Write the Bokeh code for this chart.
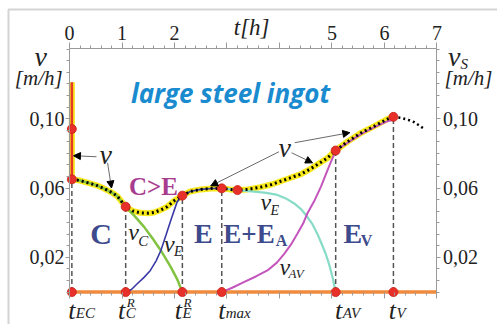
from bokeh.plotting import figure
from bokeh.models import (Range1d, LinearAxis, FixedTicker, Label, Arrow, NormalHead,
                          ColumnDataSource, CustomJSTickFormatter, BoxAnnotation)
from bokeh.embed import file_html
from bokeh.resources import INLINE

# ---------------- data ----------------
# key times [h] and the velocity at each key time [m/h]
key_names = ["EC", "C", "E", "max", "AV", "V"]
key_t = [0.045, 1.07, 2.15, 2.90, 5.07, 6.17]
key_v = [0.065, 0.0492, 0.0556, 0.0598, 0.0816, 0.101]

# extra points marked red
extra_t = [0.045, 3.2]
extra_v = [0.094, 0.0588]

# initial vertical (very fast) stage at t_EC
init_t = [0.045, 0.045]
init_v = [0.121, 0.065]

# v_C (columnar growth)
vc_t = [0.045, 0.2, 0.34, 0.5, 0.65, 0.8, 0.91, 1.07, 1.25, 1.42, 1.58, 1.74, 1.93, 2.05, 2.15]
vc_v = [0.065, 0.0643, 0.0631, 0.0617, 0.0598, 0.0575, 0.0553, 0.0492, 0.0435, 0.0376, 0.031, 0.024, 0.0144, 0.0075, 0.0]

# v_E (equiaxed growth, first part)
ve_t = [1.07, 1.18, 1.29, 1.42, 1.54, 1.65, 1.74, 1.84, 1.93, 2.05, 2.15, 2.3, 2.5, 2.7, 2.9]
ve_v = [0.0, 0.0015, 0.0048, 0.0085, 0.0125, 0.018, 0.024, 0.033, 0.0414, 0.052, 0.0556, 0.058, 0.0592, 0.0597, 0.0598]

# v_E (equiaxed, decaying part)
ve2_t = [2.9, 3.2, 3.52, 3.75, 3.96, 4.12, 4.28, 4.42, 4.53, 4.63, 4.72, 4.8, 4.88, 4.95, 5.01, 5.07]
ve2_v = [0.0598, 0.0588, 0.0579, 0.0572, 0.056, 0.054, 0.0511, 0.0475, 0.0434, 0.039, 0.0337, 0.028, 0.0221, 0.0155, 0.0086, 0.0]

# v_AV
vav_t = [2.9, 3.1, 3.32, 3.55, 3.77, 3.95, 4.09, 4.22, 4.34, 4.45, 4.53, 4.67, 4.79, 4.93, 5.07, 5.3, 5.55, 5.8, 6.06, 6.17]
vav_v = [0.0, 0.0025, 0.0057, 0.009, 0.0125, 0.017, 0.022, 0.0275, 0.0337, 0.0395, 0.0453, 0.053, 0.0608, 0.0715, 0.0816, 0.0862, 0.091, 0.095, 0.0985, 0.0995]

# total velocity v
tot_t = [0.045, 0.2, 0.34, 0.5, 0.65, 0.8, 0.91, 1.07, 1.2, 1.35, 1.5, 1.61, 1.75, 1.86, 2.0, 2.15, 2.3, 2.5,
         2.7, 2.9, 3.05, 3.2, 3.4, 3.64, 3.85, 4.09, 4.41, 4.6, 4.72, 4.91, 5.07, 5.3, 5.55, 5.8, 6.06, 6.17]
tot_v = [0.065, 0.0643, 0.0631, 0.0617, 0.0598, 0.0575, 0.0553, 0.0492, 0.0468, 0.0457, 0.0455, 0.0459, 0.0475,
         0.0492, 0.0528, 0.0556, 0.058, 0.0592, 0.0597, 0.0598, 0.0592, 0.0588, 0.0592, 0.0605, 0.062, 0.0646,
         0.068, 0.0712, 0.0735, 0.0772, 0.0816, 0.0868, 0.0917, 0.0955, 0.0998, 0.101]
# extrapolated continuation
ext_t = [6.17, 6.31, 6.45, 6.57, 6.76]
ext_v = [0.101, 0.1004, 0.0993, 0.0979, 0.094]

base_t = [0, 7]
base_v = [0, 0]

top_ticks = [0, 1, 2, 3, 4, 5, 6, 7]
top_labels = ["0", "1", "2", "", "", "5", "6", "7"]
v_ticks = [0.02, 0.06, 0.10]
T_MAX = 7
V_MAX = 0.1404

# ---------------- figure ----------------
SERIF = "Liberation Serif"
p = figure(width=497, height=324, x_range=Range1d(-1.3143, 8.1524), y_range=Range1d(-0.018674, 0.16807),
           output_backend="svg", toolbar_location=None, x_axis_location="above", min_border=0)
p.outline_line_color = None
p.grid.visible = False
p.background_fill_color = "white"
p.border_fill_color = "white"

# outer frame of the figure
p.add_layout(BoxAnnotation(left=-1.162, top=0.1629, right=8.6, bottom=-0.05,
                           fill_color=None, line_color="#707070", line_width=2))

x_ticker = FixedTicker(ticks=top_ticks, minor_ticks=[k * 0.2 for k in range(36)])
y_ticker = FixedTicker(ticks=v_ticks, minor_ticks=[k * 0.04 / 6 for k in range(22)])
yfmt = CustomJSTickFormatter(code="return tick.toFixed(2).replace('.', ',');")


def style_axis(ax, tick_out=5):
    ax.axis_line_color = "#9a9a9a"
    ax.major_tick_line_color = "#9a9a9a"
    ax.minor_tick_line_color = "#9a9a9a"
    ax.major_tick_in = 0
    ax.minor_tick_in = 0
    ax.major_tick_out = tick_out
    ax.minor_tick_out = 3
    ax.major_label_text_font = SERIF
    ax.major_label_text_font_size = "20px"
    ax.major_label_text_color = "#222222"


top = p.xaxis[0]
top.ticker = x_ticker
top.fixed_location = V_MAX
top.bounds = (0, T_MAX)
top.major_label_overrides = dict(zip(top_ticks, top_labels))
style_axis(top, 6)
top.major_label_standoff = 3

left = p.yaxis[0]
left.ticker = y_ticker
left.formatter = yfmt
left.fixed_location = 0
left.bounds = (0, V_MAX)
style_axis(left, 4)
left.major_label_standoff = 1

right = LinearAxis(ticker=y_ticker, formatter=yfmt, fixed_location=T_MAX, bounds=(0, V_MAX))
style_axis(right, 4)
right.major_label_standoff = 2
p.add_layout(right, "right")

bottom = LinearAxis(ticker=x_ticker, fixed_location=0, bounds=(0, T_MAX))
style_axis(bottom, 6)
bottom.axis_line_color = None
bottom.major_label_text_color = None
bottom.major_label_text_font_size = "1px"
bottom.major_label_standoff = 0
p.add_layout(bottom, "below")

# ---------------- curves ----------------
p.line(base_t, base_v, line_color="#f08a3c", line_width=3.5)
p.line(init_t, init_v, line_color="#f7e81c", line_width=6)
p.line(tot_t, tot_v, line_color="#f7e81c", line_width=6)
p.line(init_t, init_v, line_color="#e23a26", line_width=2.5)
p.line(vc_t, vc_v, line_color="#82c341", line_width=2.5)
p.line(ve_t, ve_v, line_color="#3a3aa6", line_width=1.6)
p.line(ve2_t, ve2_v, line_color="#86dcc6", line_width=2.2)
p.line(vav_t, vav_v, line_color="#c455bd", line_width=2)
p.line(tot_t, tot_v, line_color="black", line_width=3, line_dash="2 3")
p.line(ext_t, ext_v, line_color="black", line_width=2.5, line_dash="2 3")

p.segment(x0=key_t, y0=[0] * len(key_t), x1=key_t, y1=key_v,
          line_color="#555555", line_width=1.5, line_dash="5 3")

p.scatter(key_t + key_t + extra_t, key_v + [0] * len(key_t) + extra_v, size=9,
          fill_color="#e8302a", line_color="#c82018", line_width=0.8)

# ---------------- annotations ----------------
def lab(x, y, text, size, color="#222222", style="italic", font=SERIF, align="center",
        baseline="middle", xo=0, yo=0):
    p.add_layout(Label(x=x, y=y, text=text, text_font=font, text_font_size=f"{size}px",
                       text_color=color, text_font_style=style, text_align=align,
                       text_baseline=baseline, x_offset=xo, y_offset=yo))


# axis titles
lab(-0.55, 0.136, "v", 28)
lab(-0.585, 0.1232, "[m/h]", 21)
lab(7.33, 0.136, "v", 28)
lab(7.45, 0.1315, "S", 15, align="left")
lab(7.60, 0.1232, "[m/h]", 21)
lab(3.47, 0.1525, "t[h]", 23)

# title
lab(3.067, 0.1145, "large steel ingot", 26, color="#1a8bcf", style="bold italic",
    font="Open Sans", baseline="alphabetic")

# region labels
REG = "#3d4b8c"
lab(0.60, 0.0335, "C", 30, color=REG, style="bold")
lab(1.60, 0.0609, "C>E", 25, color="#a83c8e", style="bold")
lab(2.55, 0.0335, "E", 28, color=REG, style="bold")
lab(2.93, 0.0335, "E+E", 27, color=REG, style="bold", align="left")
lab(3.93, 0.0299, "A", 16, color=REG, style="bold", align="left")
lab(5.22, 0.0335, "E", 28, color=REG, style="bold", align="left")
lab(5.55, 0.0299, "V", 16, color=REG, style="bold", align="left")

# curve labels
lab(1.22, 0.0345, "v", 24)
lab(1.31, 0.0292, "C", 15, align="left")
lab(1.90, 0.0275, "v", 24)
lab(1.99, 0.0235, "E", 14, align="left")
lab(3.74, 0.0519, "v", 24)
lab(3.83, 0.0468, "E", 14, align="left")
lab(4.10, 0.0145, "v", 24)
lab(4.17, 0.0105, "AV", 13, align="left")
lab(0.69, 0.0795, "v", 28)
lab(4.10, 0.0835, "v", 28)

# arrows
arr = ColumnDataSource(dict(
    x0=[0.515, 0.725, 3.99, 4.23, 4.29],
    y0=[0.0780, 0.0745, 0.0809, 0.0803, 0.0861],
    x1=[0.076, 0.80, 2.69, 4.63, 5.34],
    y1=[0.0786, 0.060, 0.0612, 0.0745, 0.0919]))
p.add_layout(Arrow(source=arr, x_start="x0", y_start="y0", x_end="x1", y_end="y1",
                   line_color="#444444", line_width=0.8,
                   end=NormalHead(size=7, fill_color="black", line_color="black")))

# bottom time labels
t_shift = {"EC": 0, "C": -4, "E": -4, "max": 0, "AV": 3, "V": -1}
for tk, nm in zip(key_t, key_names):
    s = t_shift[nm]
    lab(tk, -0.0106, "t", 26, baseline="alphabetic", xo=s)
    if nm in ("C", "E"):
        lab(tk, -0.0120, nm, 15, align="left", baseline="alphabetic", xo=s + 4)
        lab(tk, -0.0060, "R", 13, align="left", baseline="alphabetic", xo=s + 5)
    else:
        lab(tk, -0.0120, nm, 15, align="left", baseline="alphabetic", xo=s + 4)

open("out.html", "w").write(file_html(p, INLINE))
